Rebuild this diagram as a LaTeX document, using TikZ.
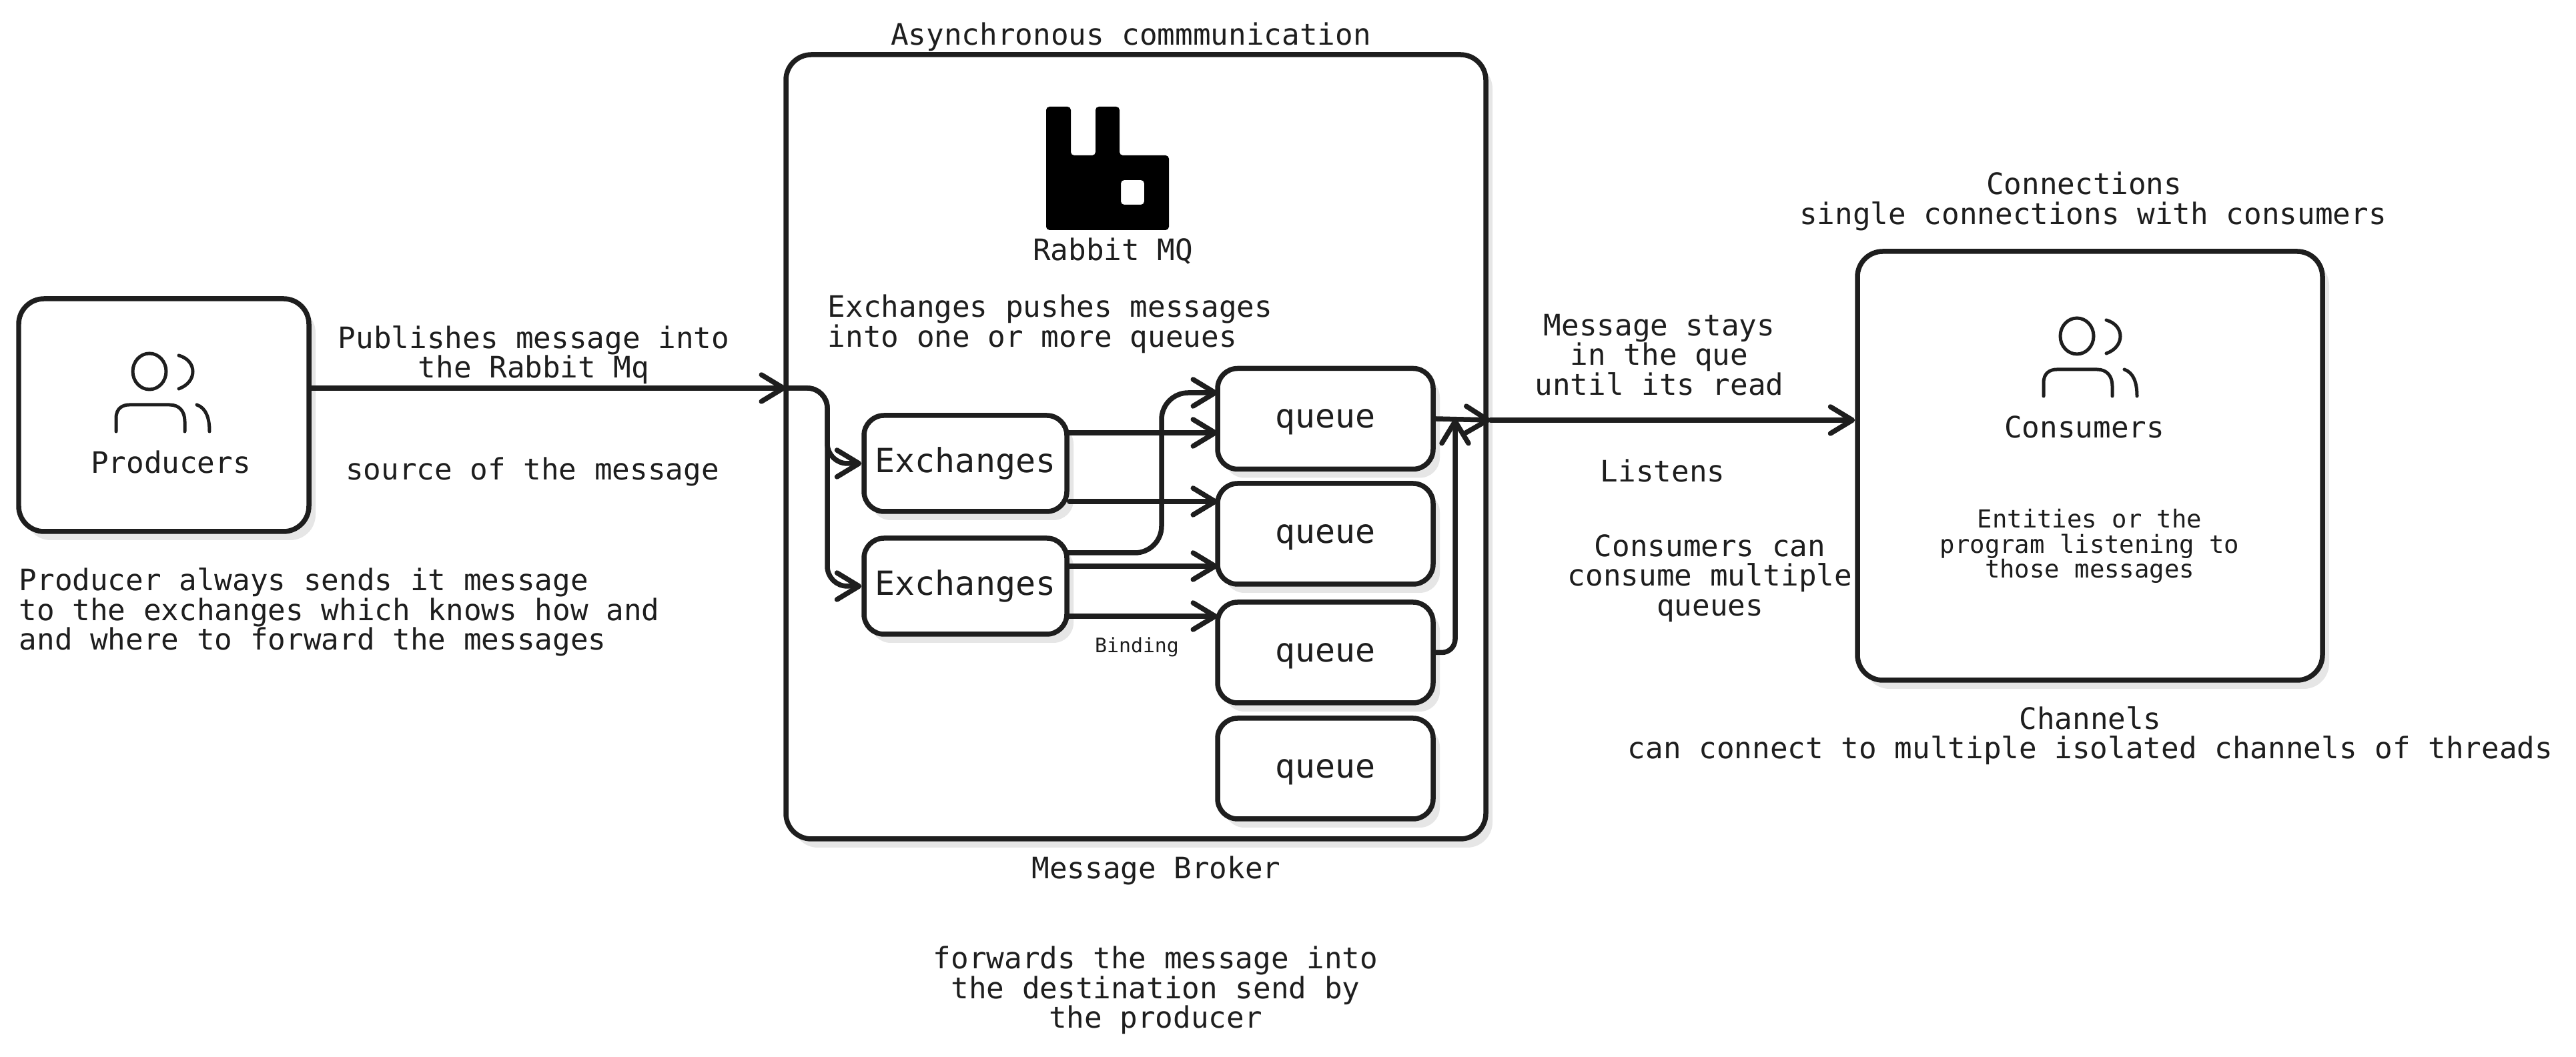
\documentclass[tikz,border=0pt]{standalone}
\usepackage{fontspec}
\setmonofont{DejaVu Sans Mono}
\usetikzlibrary{arrows.meta,shadows}
\definecolor{ink}{HTML}{1E1E1E}
\definecolor{shadowgray}{HTML}{E6E6E6}
\tikzstyle{panel} = [draw=ink,line width=.075cm,fill=white,rounded corners=.38cm,
	drop shadow={shadow xshift=.1cm,shadow yshift=-.13cm,opacity=1,fill=shadowgray}]
\tikzstyle{exchbox} = [panel,rounded corners=.3cm,minimum width=3.04cm,minimum height=1.44cm,text=ink,
	font=\ttfamily\fontsize{14.2}{14.2}\selectfont]
\tikzstyle{queuebox} = [exchbox,minimum width=3.23cm,minimum height=1.51cm,text depth=0pt]
\tikzstyle{caption} = [inner sep=0pt,text=ink,align=center,font=\ttfamily\fontsize{12.6}{12.65}\selectfont]
\tikzstyle{flow} = [draw=ink,line width=.075cm,line cap=round,-{Straight Barb[length=.33cm,width=.4cm,round]}]
\tikzset{usericon/.pic={
	\draw[ink,line width=.05cm,line cap=round] (0,0) ellipse (.25cm and .27cm);
	\draw[ink,line width=.05cm,line cap=round] (.44,.24) .. controls (.72,.16) and (.72,-.16) .. (.44,-.26);
	\draw[ink,line width=.05cm,line cap=round] (-.5,-.9) -- (-.5,-.7) .. controls (-.5,-.55) and (-.4,-.5) .. (-.3,-.5)
		-- (.3,-.5) .. controls (.45,-.5) and (.53,-.6) .. (.53,-.75) -- (.53,-.9);
	\draw[ink,line width=.05cm,line cap=round] (.71,-.5) .. controls (.85,-.55) and (.9,-.7) .. (.9,-.9);
}}

\begin{document}
\begin{tikzpicture}
	\useasboundingbox (0,0) rectangle (38.61,15.85);
	% boxes
	\node[panel,minimum width=4.35cm,minimum height=3.49cm] (producers) at (2.455,9.625) {};
	\node[panel,minimum width=10.49cm,minimum height=11.76cm] (broker) at (17.025,9.15) {};
	\node[panel,minimum width=6.97cm,minimum height=6.43cm] (consumers) at (31.325,8.865) {};
	\node[exchbox] (e1) at (14.47,8.90) {Exchanges};
	\node[exchbox] (e2) at (14.47,7.06) {Exchanges};
	\node[queuebox] (q1) at (19.865,9.57) {queue};
	\node[queuebox] (q2) at (19.865,7.845) {queue};
	\node[queuebox] (q3) at (19.865,6.065) {queue};
	\node[queuebox] (q4) at (19.865,4.325) {queue};
	% free ends of the connectors
	\coordinate (inlet) at (11.78,10.03);
	\coordinate (e2up) at (15.99,7.56);
	\coordinate (q1a) at (18.25,9.96);
	\coordinate (q1b) at (18.25,9.36);
	\coordinate (q2a) at (18.25,8.33);
	\coordinate (q2b) at (18.25,7.36);
	\coordinate (q3a) at (18.25,6.61);
	\coordinate (merge) at (21.81,9.57);
	\coordinate (outlet) at (22.34,9.55);
	% connectors
	\draw[flow] (producers.east |- inlet) -- (inlet);
	\draw[flow,rounded corners=.3cm] (inlet) -- (12.40,10.03) |- (e1.west);
	\draw[flow,rounded corners=.3cm] (inlet) -- (12.40,10.03) |- (e2.west);
	\draw[flow] (e1.east |- q1b) -- (q1b);
	\draw[flow] (e1.east |- q2a) -- (q2a);
	\draw[flow,rounded corners=.4cm] (e2up) -- (17.41,7.56) |- (q1a);
	\draw[flow] (e2.east |- q2b) -- (q2b);
	\draw[flow] (e2.east |- q3a) -- (q3a);
	\draw[flow] (q1.east) -- (outlet);
	\draw[flow,rounded corners=.2cm] (q3.east) -| (merge);
	\draw[flow] (outlet) -- (consumers.west |- outlet);
	% rabbit
	\fill[black,rounded corners=.05cm,even odd rule] (15.68,12.40) -- (15.68,14.25) -- (16.05,14.25) -- (16.05,13.52)
		-- (16.42,13.52) -- (16.42,14.25) -- (16.78,14.25) -- (16.78,13.52) -- (17.52,13.52) -- (17.52,12.40) -- cycle
		(16.80,12.78) rectangle (17.15,13.15);
	% people
	\pic at (2.24,10.28) {usericon};
	\pic at (31.13,10.81) {usericon};
	% texts
	\node[caption] (async) at (16.95,15.30) {Asynchronous commmunication};
	\node[caption] (rabbit) at (16.68,12.08) {Rabbit MQ};
	\node[caption,anchor=west,align=left] (pushes) at (12.40,10.99) {Exchanges pushes messages\\into one or more queues};
	\node[caption,font=\ttfamily\fontsize{8.5}{8.5}\selectfont] (binding) at (17.04,6.15) {Binding};
	\node[caption] (brokerlabel) at (17.33,2.80) {Message Broker};
	\node[caption] (forwards) at (17.32,1.00) {forwards the message into\\the destination send by\\the producer};
	\node[caption] (prodlabel) at (2.56,8.92) {Producers};
	\node[caption] (publishes) at (8.00,10.53) {Publishes message into\\the Rabbit Mq};
	\node[caption] (source) at (7.98,8.78) {source of the message};
	\node[caption,anchor=west,align=left] (always) at (.28,6.67) {Producer always sends it message\\to the exchanges which knows how and\\and where to forward the messages};
	\node[caption] (connections) at (31.37,12.83) {Connections\hphantom{x}\\single connections with consumers};
	\node[caption] (conslabel) at (31.24,9.45) {Consumers};
	\node[caption,font=\ttfamily\fontsize{10.6}{10.7}\selectfont] (entities) at (31.32,7.66) {Entities or the\\program listening to\\those messages};
	\node[caption] (stays) at (24.87,10.53) {Message stays\\in the que\\until its read};
	\node[caption] (listens) at (24.92,8.79) {Listens};
	\node[caption] (multiple) at (25.63,7.18) {Consumers can\\consume multiple\\queues};
	\node[caption] (channels) at (31.33,4.82) {Channels\\can connect to multiple isolated channels of threads};
\end{tikzpicture}
\end{document}
